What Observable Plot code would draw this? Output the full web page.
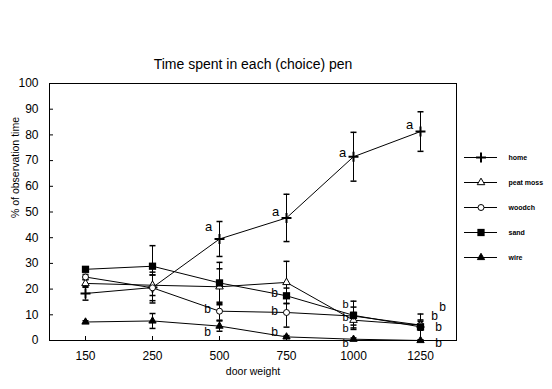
<!DOCTYPE html>
<html>
<head>
<meta charset="utf-8">
<script src="https://cdn.jsdelivr.net/npm/d3@7"></script>
<script src="https://cdn.jsdelivr.net/npm/@observablehq/plot@0.6"></script>
<style>
  html, body { margin: 0; padding: 0; background: #fff; }
  #wrap { position: relative; width: 552px; height: 389px; }
  #legend { position: absolute; left: 456px; top: 140px; }
</style>
</head>
<body>
<div id="wrap"><div id="chart"></div><div id="legend"></div></div>
<script>
// ---- data ----
const categories = ["150", "250", "500", "750", "1000", "1250"];
const seriesNames = ["home", "peat moss", "woodch", "sand", "wire"];
const yTicks = [0, 10, 20, 30, 40, 50, 60, 70, 80, 90, 100];

const homeMean = [18.3, 20.6, 39.5, 47.7, 71.5, 81.3];
const homeErr  = [2.6, 6.0, 6.8, 9.2, 9.5, 7.7];
const peatMean = [22.2, 21.5, 20.9, 22.6, 7.9, 6.0];
const peatErr  = [1.5, 4.0, 7.0, 8.2, 3.0, 1.5];
const woodMean = [24.7, 20.5, 11.4, 10.9, 9.5, 6.0];
const woodErr  = [1.0, 5.0, 3.5, 5.7, 3.5, 2.0];
const sandMean = [27.7, 28.9, 22.4, 17.4, 9.8, 5.3];
const sandErr  = [0.7, 8.0, 8.0, 3.0, 5.5, 5.0];
const wireMean = [7.2, 7.6, 5.6, 1.4, 0.5, 0.0];
const wireErr  = [0.5, 2.9, 2.0, 0.5, 0.5, 0.0];

// significance letters
const aCats = ["500", "750", "1000", "1250"];
const aVals = [44.3, 50.2, 72.9, 83.8];
const bLeftCats = ["500", "500", "750", "750", "750"];
const bLeftVals = [12.2, 3.3, 18.4, 11.4, 3.3];
const bMidCats = ["1000", "1000", "1000", "1000"];
const bMidVals = [14.1, 9.1, 4.8, -1.0];
const bRightCats = ["1250", "1250"];
const bRightVals = [5.3, -1.0];
const bInnerCats = ["1250"];
const bInnerVals = [9.6];
const bSupCats = ["1250"];
const bSupVals = [12.2];

const title = "Time spent in each (choice) pen";
const xLabel = "door weight";
const yLabel = "% of observation time";

// ---- build rows ----
const means = [homeMean, peatMean, woodMean, sandMean, wireMean];
const errs = [homeErr, peatErr, woodErr, sandErr, wireErr];
const rows = [];
seriesNames.forEach((s, si) => {
  categories.forEach((c, i) => {
    rows.push({series: s, cat: c, mean: means[si][i], err: errs[si][i]});
  });
});
const toPts = (cats, vals) => cats.map((c, i) => ({cat: c, v: vals[i]}));

// horizontal cap symbol for error bars
const capSymbol = {
  draw(context, size) {
    const r = Math.sqrt(size / Math.PI);
    context.moveTo(-r, 0);
    context.lineTo(r, 0);
  }
};

const symbolStyle = {
  "home":      {symbol: "plus",     fill: "none",  stroke: "black", r: 3.3, strokeWidth: 2},
  "peat moss": {symbol: "triangle", fill: "white", stroke: "black", r: 2.8, strokeWidth: 1},
  "woodch":    {symbol: "circle",   fill: "white", stroke: "black", r: 3.0, strokeWidth: 1},
  "sand":      {symbol: "square",   fill: "black", stroke: "none",  r: 4.1},
  "wire":      {symbol: "triangle", fill: "black", stroke: "black", r: 2.7, strokeWidth: 1}
};

const font = "Liberation Sans, Arial, sans-serif";
const W = 552, H = 389;

const dotMarks = seriesNames.map(s =>
  Plot.dot(rows.filter(d => d.series === s), {x: "cat", y: "mean", ...symbolStyle[s]})
);

const chart = Plot.plot({
  width: W,
  height: H,
  marginLeft: 49,
  marginRight: 96,
  marginTop: 83,
  marginBottom: 49,
  style: {fontFamily: font, background: "white", color: "black"},
  x: {type: "point", domain: categories, padding: 0.5},
  y: {domain: [0, 100]},
  marks: [
    Plot.frame({stroke: "black"}),
    Plot.axisY(yTicks, {tickSize: -4, tickPadding: 15, fontSize: 12, label: null, fill: "black"}),
    Plot.axisX(categories, {tickSize: -4, tickPadding: 15, fontSize: 12, label: null, fill: "black"}),
    Plot.text([yLabel], {frameAnchor: "left", dx: -34, rotate: -90, fontSize: 10.5, text: d => d, dy: 6, fill: "black"}),
    Plot.text([xLabel], {frameAnchor: "bottom", dy: 34, fontSize: 10.5, text: d => d, fill: "black"}),
    Plot.text([title], {frameAnchor: "top", dy: -24, fontSize: 14, text: d => d, fill: "black"}),
    Plot.line(rows, {x: "cat", y: "mean", z: "series", stroke: "black", strokeWidth: 1}),
    Plot.ruleX(rows, {x: "cat", y1: d => d.mean - d.err, y2: d => d.mean + d.err, stroke: "black"}),
    Plot.dot(rows, {x: "cat", y: d => d.mean + d.err, symbol: capSymbol, r: 3, stroke: "black", fill: "none"}),
    Plot.dot(rows, {x: "cat", y: d => d.mean - d.err, symbol: capSymbol, r: 3, stroke: "black", fill: "none"}),
    ...dotMarks,
    Plot.text(toPts(aCats, aVals), {x: "cat", y: "v", text: () => "a", dx: -11, fontSize: 13, fill: "black"}),
    Plot.text(toPts(bLeftCats, bLeftVals), {x: "cat", y: "v", text: () => "b", dx: -12, fontSize: 12, fill: "black"}),
    Plot.text(toPts(bMidCats, bMidVals), {x: "cat", y: "v", text: () => "b", dx: -8, fontSize: 11, fill: "black"}),
    Plot.text(toPts(bRightCats, bRightVals), {x: "cat", y: "v", text: () => "b", dx: 18, fontSize: 12, fill: "black"}),
    Plot.text(toPts(bInnerCats, bInnerVals), {x: "cat", y: "v", text: () => "b", dx: 14, fontSize: 12, fill: "black"}),
    Plot.text(toPts(bSupCats, bSupVals), {x: "cat", y: "v", text: () => "b", dx: 22, dy: -2, fontSize: 12, fill: "black"})
  ]
});
document.getElementById("chart").appendChild(chart);

// ---- legend ----
const legendRows = seriesNames.map(s => ({series: s}));
const legend = Plot.plot({
  width: 96,
  height: 130,
  marginTop: 16,
  marginBottom: 13,
  marginLeft: 8,
  marginRight: 55,
  style: {fontFamily: font, background: "transparent", color: "black"},
  x: {domain: [0, 1], axis: null},
  y: {type: "point", domain: seriesNames, padding: 0, axis: null},
  marks: [
    Plot.ruleY(legendRows, {y: "series", x1: 0, x2: 1, stroke: "black", strokeWidth: 1}),
    ...seriesNames.map(s => Plot.dot(legendRows.filter(d => d.series === s), {x: 0.5, y: "series", ...symbolStyle[s]})),
    Plot.text(legendRows, {x: 1, y: "series", text: "series", dx: 11, textAnchor: "start", fontSize: 7, fontWeight: "bold", fill: "black"})
  ]
});
document.getElementById("legend").appendChild(legend);
</script>
</body>
</html>
